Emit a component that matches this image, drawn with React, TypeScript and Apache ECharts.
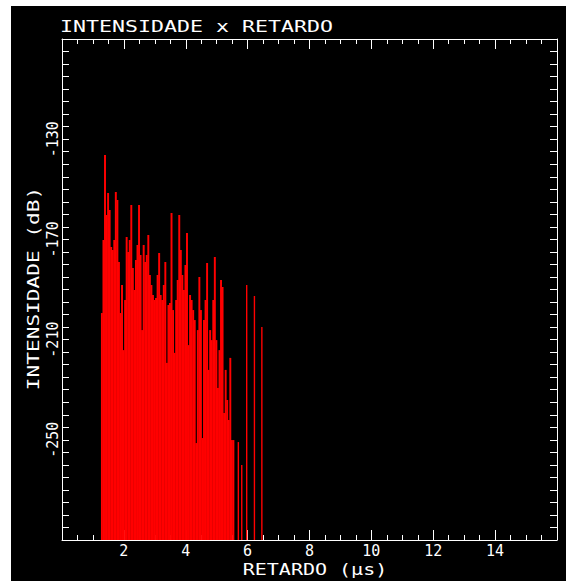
import React, { useEffect, useRef } from 'react';
import * as echarts from 'echarts';

const delays = [
  1.29, 1.34, 1.39, 1.44, 1.49, 1.54, 1.59, 1.64, 1.69, 1.74,
  1.79, 1.84, 1.89, 1.94, 1.99, 2.04, 2.09, 2.14, 2.19, 2.24,
  2.29, 2.34, 2.39, 2.44, 2.49, 2.54, 2.59, 2.64, 2.69, 2.74,
  2.79, 2.84, 2.89, 2.94, 2.99, 3.04, 3.09, 3.14, 3.19, 3.24,
  3.29, 3.34, 3.39, 3.44, 3.49, 3.54, 3.59, 3.64, 3.69, 3.74,
  3.79, 3.84, 3.89, 3.94, 3.99, 4.04, 4.09, 4.14, 4.19, 4.24,
  4.29, 4.34, 4.39, 4.44, 4.49, 4.54, 4.59, 4.64, 4.69, 4.74,
  4.79, 4.84, 4.89, 4.94, 4.99, 5.04, 5.09, 5.14, 5.19, 5.24,
  5.29, 5.34, 5.39, 5.44, 5.49, 5.54,
];

const intensities = [
  -199.4, -170.2, -136.3, -160.3, -151.5, -158.3, -173.0, -174.2, -170.2, -151.1,
  -154.3, -179.0, -199.4, -188.2, -214.2, -194.2, -169.0, -175.0, -170.2, -156.3,
  -181.4, -190.2, -178.2, -172.2, -156.3, -176.2, -206.2, -172.2, -179.0, -176.2,
  -168.2, -184.2, -188.2, -192.2, -194.2, -193.4, -184.2, -175.4, -192.2, -194.2,
  -188.2, -179.0, -219.3, -196.2, -195.4, -159.5, -198.2, -215.3, -194.2, -186.2,
  -160.3, -174.2, -184.2, -190.2, -180.2, -167.4, -212.2, -192.2, -194.2, -198.2,
  -202.2, -251.3, -206.2, -185.0, -198.2, -249.3, -202.2, -194.2, -179.4, -222.1,
  -206.2, -210.2, -194.2, -177.0, -210.2, -229.3, -214.2, -186.2, -189.0, -239.3,
  -222.1, -234.1, -242.1, -217.3, -250.1, -250.1,
];

const lineDelays = [5.7, 5.81, 5.97, 6.22, 6.46];
const lineIntensities = [-250.9, -260.1, -188.2, -192.6, -205.0];

const xTickLabels = [2, 4, 6, 8, 10, 12, 14];
const yTickLabels = [-250, -210, -170, -130];

const X_MIN = 0;
const X_MAX = 16;
const Y_MIN = -290;
const Y_MAX = -90;
const RED = '#ff0000';
const FONT = '"DejaVu Sans Mono", monospace';

export default function App() {
  const ref = useRef<HTMLDivElement>(null);

  useEffect(() => {
    if (!ref.current) return;
    const chart = echarts.init(ref.current, null, { renderer: 'svg' });

    const makeRender = (widthFn: (api: any) => number) => (params: any, api: any) => {
      const t = api.value(0);
      const v = api.value(1);
      const top = api.coord([t, v]);
      const base = api.coord([t, Y_MIN]);
      const w = widthFn(api);
      return {
        type: 'rect',
        shape: { x: top[0] - w / 2, y: top[1], width: w, height: base[1] - top[1] },
        style: { fill: RED },
      };
    };

    const axisLineStyle = { lineStyle: { color: '#ffffff', width: 1 } };

    const xBase = {
      type: 'value',
      min: X_MIN,
      max: X_MAX,
      interval: 2,
      axisLine: { show: true, onZero: false, ...axisLineStyle },
      axisTick: { show: true, inside: true, length: 10, lineStyle: { color: '#ffffff' } },
      minorTick: { show: true, splitNumber: 4, length: 5, lineStyle: { color: '#ffffff' } },
      splitLine: { show: false },
      minorSplitLine: { show: false },
    };

    const yBase = {
      type: 'value',
      min: Y_MIN,
      max: Y_MAX,
      interval: 5,
      axisLine: { show: true, onZero: false, ...axisLineStyle },
      axisTick: { show: true, inside: true, length: 7, lineStyle: { color: '#ffffff' } },
      splitLine: { show: false },
    };

    chart.setOption({
      animation: false,
      backgroundColor: '#000000',
      grid: { left: 51, right: 9, top: 33, bottom: 41, containLabel: false },
      xAxis: [
        {
          ...xBase,
          position: 'bottom',
          axisLabel: {
            color: '#ffffff',
            fontFamily: FONT,
            fontSize: 15,
            margin: 3,
            formatter: (v: number) => (xTickLabels.includes(v) ? String(v) : ''),
          },
        },
        { ...xBase, position: 'top', axisLabel: { show: false } },
      ],
      yAxis: [
        {
          ...yBase,
          position: 'left',
          axisLabel: {
            color: '#ffffff',
            fontFamily: FONT,
            fontSize: 15,
            rotate: 90,
            margin: 2,
            formatter: (v: number) => (yTickLabels.includes(v) ? String(v) : ''),
          },
        },
        { ...yBase, position: 'right', axisLabel: { show: false } },
      ],
      graphic: [
        {
          type: 'text',
          x: 49,
          y: 20,
          scaleX: 1.35,
          style: {
            text: 'INTENSIDADE x RETARDO',
            fill: '#ffffff',
            fontFamily: FONT,
            fontSize: 16,
            align: 'left',
            verticalAlign: 'middle',
          },
        },
        {
          type: 'text',
          x: 304,
          y: 563,
          scaleX: 1.25,
          style: {
            text: 'RETARDO (μs)',
            fill: '#ffffff',
            fontFamily: FONT,
            fontSize: 16,
            align: 'center',
            verticalAlign: 'middle',
          },
        },
        {
          type: 'text',
          x: 22.5,
          y: 282.5,
          rotation: Math.PI / 2,
          scaleX: 1.32,
          style: {
            text: 'INTENSIDADE (dB)',
            fill: '#ffffff',
            fontFamily: FONT,
            fontSize: 16,
            align: 'center',
            verticalAlign: 'middle',
          },
        },
      ],
      series: [
        {
          type: 'custom',
          xAxisIndex: 0,
          yAxisIndex: 0,
          clip: true,
          renderItem: makeRender((api: any) => api.size([0.05, 0])[0] + 0.4),
          data: delays.map((t, i) => [t, intensities[i]]),
        },
        {
          type: 'custom',
          xAxisIndex: 0,
          yAxisIndex: 0,
          clip: true,
          renderItem: makeRender(() => 1.4),
          data: lineDelays.map((t, i) => [t, lineIntensities[i]]),
        },
      ],
    });

    return () => {
      chart.dispose();
    };
  }, []);

  return (
    <div
      ref={ref}
      style={{ position: 'absolute', left: 11, top: 6, width: 555, height: 575 }}
    />
  );
}
